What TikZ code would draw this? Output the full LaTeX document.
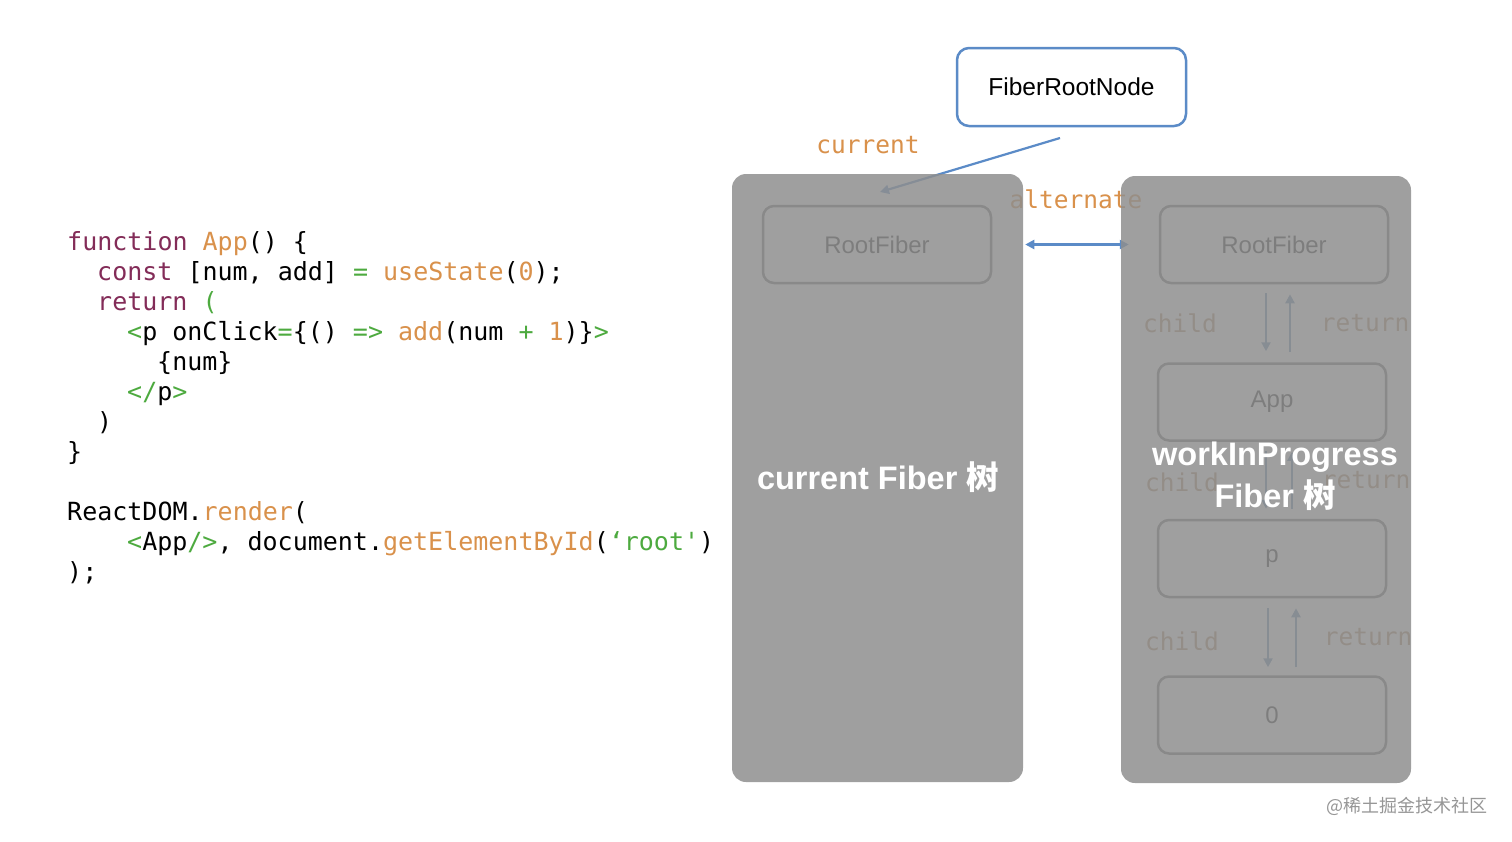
\documentclass[tikz,border=0pt]{standalone}
\usepackage{fontspec}
\setmainfont{Liberation Sans}
\newfontfamily\codefont{DejaVu Sans Mono}
\newfontfamily\cjkfont{Noto Sans CJK SC}
\usetikzlibrary{arrows.meta}
\definecolor{kwc}{HTML}{832C58}
\definecolor{orc}{HTML}{D9914B}
\definecolor{grc}{HTML}{4DAA3F}
\definecolor{bluc}{HTML}{5B8BC7}
\definecolor{panelc}{RGB}{142,142,142}
\definecolor{wmc}{RGB}{150,150,150}
\newcommand\kwd[1]{\textcolor{kwc}{#1}}
\newcommand\orn[1]{\textcolor{orc}{#1}}
\newcommand\grn[1]{\textcolor{grc}{#1}}
\tikzset{
  codeline/.style={anchor=base west, inner sep=0pt, font=\codefont\fontsize{25}{30}\selectfont},
  monolabel/.style={inner sep=0pt, text=orc, font=\codefont\fontsize{24.5}{29}\selectfont},
  innerlabel/.style={monolabel, text=orc!55!gray},
  fiberbox/.style={draw=black!55, line width=2.5pt, rounded corners=11pt, minimum width=228pt, minimum height=77pt, inner sep=0pt, text=black!85, font=\fontsize{24}{28}\selectfont},
  panel/.style={fill=panelc, fill opacity=0.843, rounded corners=14pt, draw=none},
  title/.style={text=white, align=center, inner sep=0pt, font=\bfseries\fontsize{32.5}{42}\selectfont},
  blueline/.style={draw=bluc, line width=2.2pt},
  innerline/.style={draw=bluc!70!gray, line width=2.4pt},
  tip/.style={-{Triangle[length=9pt,width=9pt]}},
  dtip/.style={{Triangle[length=9pt,width=9pt]}-{Triangle[length=9pt,width=9pt]}},
}
\begin{document}
\begin{tikzpicture}[x=1pt,y=-1pt]
\useasboundingbox (0,0) rectangle (1512,841);
\fill[white] (0,0) rectangle (1512,841);
% code
\node[codeline] (c1) at (67,250) {\kwd{function} \orn{App}() \{};
\node[codeline] (c2) at (97,280) {\kwd{const} [num, add] \grn{=} \orn{useState}(\orn{0});};
\node[codeline] (c3) at (97,310) {\kwd{return} \grn{(}};
\node[codeline] (c4) at (127,340) {\grn{<}p onClick\grn{=}\{() \grn{=>} \orn{add}(num \grn{+} \orn{1})\}\grn{>}};
\node[codeline] (c5) at (157,370) {\{num\}};
\node[codeline] (c6) at (127,400) {\grn{</}p\grn{>}};
\node[codeline] (c7) at (97,430) {)};
\node[codeline] (c8) at (67,460) {\}};
\node[codeline] (c9) at (67,520) {ReactDOM.\orn{render}(};
\node[codeline] (c10) at (127,550) {\grn{<}App\grn{/>}, document.\orn{getElementById}(\grn{‘root\char"27})};
\node[codeline] (c11) at (67,580) {);};
% FiberRootNode
\node[draw=bluc, line width=2.5pt, rounded corners=12pt, fill=white, minimum width=229pt, minimum height=78pt, inner sep=0pt, font=\fontsize{24.5}{28}\selectfont] (frn) at (1071.5,87) {FiberRootNode};
\node[monolabel] (lcur) at (868,145) {current};
\node[monolabel] (lalt) at (1076,199) {alternate};
% fiber boxes
\node[fiberbox] (rf1) at (877,244.5) {RootFiber};
\node[fiberbox] (rf2) at (1274,244.5) {RootFiber};
\node[fiberbox] (app) at (1272,402) {App};
\node[fiberbox] (pp) at (1272,558.5) {p};
\node[fiberbox] (zero) at (1272,715) {0};
% connectors
\coordinate (cs) at (1060,138);
\coordinate (ce) at (880,192);
\draw[blueline, tip] (cs) -- (ce);
\draw[blueline, dtip, shorten <=33pt, shorten >=30pt] (rf1.east) -- (rf2.west);
\draw[innerline, tip, shorten <=9pt, shorten >=11pt] ([xshift=-8pt]rf2.south) -- ([xshift=-6pt]app.north);
\draw[innerline, tip, shorten <=10pt, shorten >=10pt] ([xshift=18pt]app.north) -- ([xshift=16pt]rf2.south);
\draw[innerline, tip, shorten <=9pt, shorten >=10pt] ([xshift=-6pt]app.south) -- ([xshift=-6pt]pp.north);
\draw[innerline, tip, shorten <=10pt, shorten >=10pt] ([xshift=20pt]pp.north) -- ([xshift=20pt]app.south);
\draw[innerline, tip, shorten <=10pt, shorten >=8pt] ([xshift=-4pt]pp.south) -- ([xshift=-4pt]zero.north);
\draw[innerline, tip, shorten <=8pt, shorten >=10pt] ([xshift=24pt]zero.north) -- ([xshift=24pt]pp.south);
\node[innerlabel] (ch1) at (1180,323) {child};
\node[innerlabel] (re1) at (1365,323) {return};
\node[innerlabel] (ch2) at (1182,482) {child};
\node[innerlabel] (re2) at (1366,480) {return};
\node[innerlabel] (ch3) at (1182,641) {child};
\node[innerlabel] (re3) at (1368,637) {return};
% panels
\path[panel] (732,174) rectangle (1023,782);
\path[panel] (1121,176) rectangle (1411,783);
% titles
\node[title] (t1) at (878,477) {current Fiber {\cjkfont\bfseries 树}};
\node[title] (t2) at (1275,476) {workInProgress\\Fiber {\cjkfont\bfseries 树}};
% watermark
\node[anchor=east, inner sep=0pt, text=wmc, font=\cjkfont\fontsize{18}{20}\selectfont] (wm) at (1488,806) {@稀土掘金技术社区};
\end{tikzpicture}
\end{document}
